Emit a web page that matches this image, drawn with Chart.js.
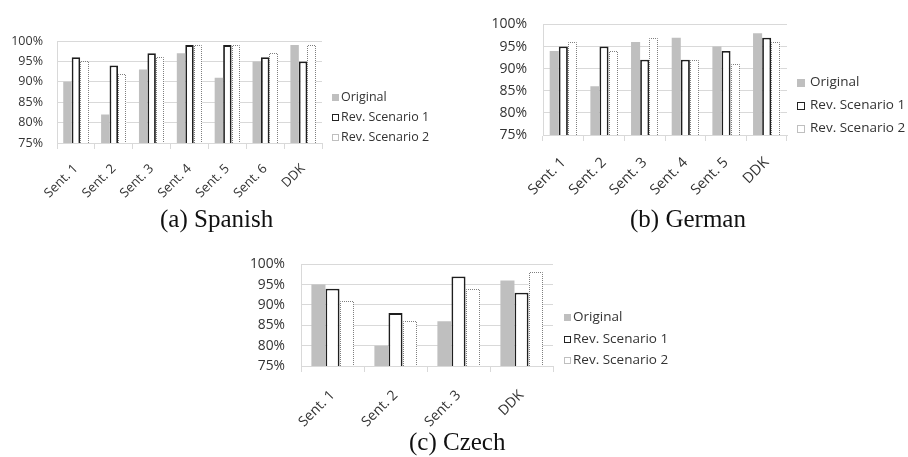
<!DOCTYPE html>
<html>
<head>
<meta charset="utf-8">
<script src="https://cdn.jsdelivr.net/npm/chart.js@4.4.1/dist/chart.umd.min.js"></script>
<style>
  html, body { margin: 0; padding: 0; background: #fff; }
  body { width: 908px; height: 457px; position: relative; overflow: hidden; }
  canvas { position: absolute; }
  .cap { position: absolute; font-family: 'Liberation Serif', 'Times New Roman', serif; font-size: 25px; line-height: 25px; color: #111; white-space: nowrap; }
</style>
</head>
<body>
<canvas id="es" width="440" height="210" style="left:0px;top:0px"></canvas>
<canvas id="de" width="428" height="225" style="left:480px;top:0px"></canvas>
<canvas id="cs" width="450" height="205" style="left:230px;top:240px"></canvas>
<div class="cap" style="left:160px;top:206px">(a) Spanish</div>
<div class="cap" style="left:630px;top:206px">(b) German</div>
<div class="cap" style="left:409px;top:429px">(c) Czech</div>

<script>
// Accuracy (%) per sentence, for the original and the two revised scenarios
const seriesNames = ['Original', 'Rev. Scenario 1', 'Rev. Scenario 2'];
const percentTicks = [75, 80, 85, 90, 95, 100];

const spanishCategories = ['Sent. 1', 'Sent. 2', 'Sent. 3', 'Sent. 4', 'Sent. 5', 'Sent. 6', 'DDK'];
const spanishOriginal = [90, 82, 93, 97, 91, 95, 99];
const spanishRev1 = [96, 94, 97, 99, 99, 96, 95];
const spanishRev2 = [95, 92, 96, 99, 99, 97, 99];

const germanCategories = ['Sent. 1', 'Sent. 2', 'Sent. 3', 'Sent. 4', 'Sent. 5', 'DDK'];
const germanOriginal = [94, 86, 96, 97, 95, 98];
const germanRev1 = [95, 95, 92, 92, 94, 97];
const germanRev2 = [96, 94, 97, 92, 91, 96];

const czechCategories = ['Sent. 1', 'Sent. 2', 'Sent. 3', 'DDK'];
const czechOriginal = [95, 80, 86, 96];
const czechRev1 = [94, 88, 97, 93];
const czechRev2 = [91, 86, 94, 98];

Chart.defaults.font.family = "'Open Sans', 'Noto Sans', sans-serif";
Chart.defaults.color = '#333';

const GRID = '#d9d9d9';
const GREY_FILL = '#bfbfbf';
const DOT_COLOR = '#7f7f7f';

// Dotted outline for datasets flagged with `dotted`
const dottedBars = {
  id: 'dottedBars',
  afterDatasetsDraw(chart) {
    const ctx = chart.ctx;
    const area = chart.chartArea;
    chart.data.datasets.forEach((ds, i) => {
      if (!ds.dotted) return;
      const meta = chart.getDatasetMeta(i);
      ctx.save();
      ctx.beginPath();
      ctx.rect(area.left, area.top - 2, area.right - area.left, area.bottom - area.top + 2);
      ctx.clip();
      ctx.strokeStyle = DOT_COLOR;
      ctx.lineWidth = 1;
      ctx.setLineDash([1, 1]);
      meta.data.forEach(bar => {
        const p = bar.getProps(['x', 'y', 'width'], true);
        const l = Math.round(p.x - p.width / 2) + 0.5;
        const r = Math.round(p.x + p.width / 2) - 0.5;
        const t = Math.round(p.y) + 0.5;
        const b = Math.round(area.bottom);
        ctx.beginPath();
        ctx.moveTo(l, b);
        ctx.lineTo(l, t);
        ctx.lineTo(r, t);
        ctx.lineTo(r, b);
        ctx.stroke();
      });
      ctx.restore();
    });
  }
};

// Legend to the right of the plot, with small square markers
const sideLegend = {
  id: 'sideLegend',
  afterDraw(chart, args, opts) {
    const ctx = chart.ctx;
    ctx.save();
    ctx.font = opts.fontSize + "px 'Open Sans', 'Noto Sans', sans-serif";
    ctx.textBaseline = 'middle';
    chart.data.datasets.forEach((ds, i) => {
      const cy = opts.top + i * opts.gap;
      const s = opts.box;
      const bx = opts.left + 0.5;
      const by = Math.round(cy - s / 2) + 0.5;
      if (ds.dotted) {
        ctx.fillStyle = '#fff';
        ctx.fillRect(bx, by, s, s);
        ctx.strokeStyle = DOT_COLOR;
        ctx.lineWidth = 1;
        ctx.setLineDash([1, 1]);
        ctx.strokeRect(bx, by, s, s);
        ctx.setLineDash([]);
      } else if (ds.borderWidth > 0) {
        ctx.fillStyle = '#fff';
        ctx.fillRect(bx, by, s, s);
        ctx.strokeStyle = '#222';
        ctx.lineWidth = 1;
        ctx.strokeRect(bx, by, s, s);
      } else {
        ctx.fillStyle = ds.backgroundColor;
        ctx.fillRect(bx - 0.5, by - 0.5, s + 1, s + 1);
      }
      ctx.fillStyle = '#333';
      ctx.fillText(ds.label, opts.textLeft, cy);
    });
    ctx.restore();
  }
};

function buildChart(id, categories, original, rev1, rev2, cfg) {
  return new Chart(document.getElementById(id), {
    type: 'bar',
    data: {
      labels: categories,
      datasets: [
        { label: seriesNames[0], data: original, backgroundColor: GREY_FILL, borderWidth: 0 },
        { label: seriesNames[1], data: rev1, backgroundColor: '#fff', borderColor: '#1e1e1e', borderWidth: 1.8 },
        { label: seriesNames[2], data: rev2, backgroundColor: '#fff', borderWidth: 0, dotted: true }
      ]
    },
    options: {
      responsive: false,
      animation: false,
      devicePixelRatio: 1,
      datasets: { bar: { categoryPercentage: 0.67, barPercentage: 1.0 } },
      layout: { padding: { top: cfg.top, right: cfg.right, left: 0, bottom: 0 } },
      plugins: {
        legend: { display: false },
        tooltip: { enabled: false },
        sideLegend: cfg.legend
      },
      scales: {
        x: {
          grid: { offset: true, drawOnChartArea: false, drawTicks: true, tickLength: 6, color: GRID },
          border: { display: true, color: GRID },
          ticks: { minRotation: 45, maxRotation: 45, autoSkip: false, padding: cfg.xPad,
                   font: { size: cfg.xFont }, color: '#333' },
          afterFit(s) { s.height = cfg.xHeight; }
        },
        y: {
          min: 75, max: 100,
          grid: { color: GRID, drawTicks: false },
          border: { display: true, color: GRID },
          ticks: { padding: cfg.yPad, font: { size: cfg.font }, color: '#333',
                   callback: v => v + '%' },
          afterBuildTicks(s) { s.ticks = percentTicks.map(v => ({ value: v })); },
          afterFit(s) { s.width = cfg.yWidth; }
        }
      }
    },
    plugins: [dottedBars, sideLegend]
  });
}

buildChart('es', spanishCategories, spanishOriginal, spanishRev1, spanishRev2, {
  top: 41, right: 118, yWidth: 57, xHeight: 67, font: 12.5, xFont: 13, yPad: 14, xPad: 12,
  legend: { left: 332, textLeft: 341, top: 97, gap: 20, box: 6, fontSize: 12.5 }
});

buildChart('de', germanCategories, germanOriginal, germanRev1, germanRev2, {
  top: 18, right: 121, yWidth: 63, xHeight: 90, font: 14, xFont: 14.5, yPad: 16, xPad: 13,
  legend: { left: 317, textLeft: 330, top: 82, gap: 23, box: 7, fontSize: 13.5 }
});

buildChart('cs', czechCategories, czechOriginal, czechRev1, czechRev2, {
  top: 16, right: 127, yWidth: 71, xHeight: 79, font: 13.8, xFont: 14, yPad: 16, xPad: 15,
  legend: { left: 334, textLeft: 343, top: 77, gap: 21.7, box: 6, fontSize: 13.5 }
});
</script>
</body>
</html>
